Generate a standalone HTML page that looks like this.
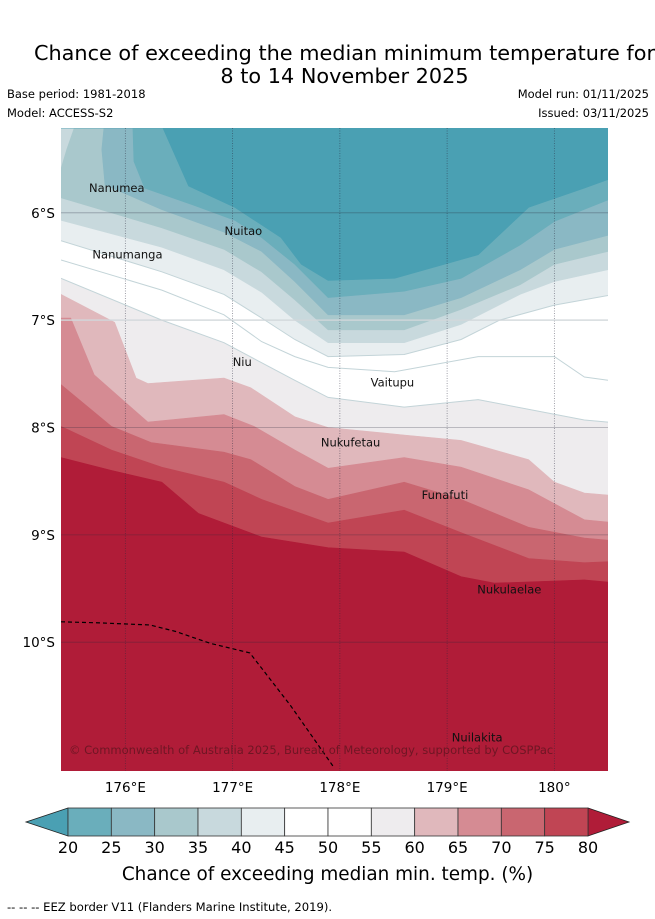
<!DOCTYPE html>
<html><head><meta charset="utf-8">
<style>
html,body{margin:0;padding:0;background:#fff;}
svg{display:block;font-family:"DejaVu Sans","Liberation Sans",sans-serif;}
</style></head>
<body>
<svg id="chart" width="655" height="919" viewBox="0 0 655 919">
  <text x="344.5" y="60" font-size="20.8" text-anchor="middle" fill="#000">Chance of exceeding the median minimum temperature for</text>
  <text x="344.5" y="83" font-size="20.8" text-anchor="middle" fill="#000">8 to 14 November 2025</text>
  <text x="7" y="98" font-size="11.5">Base period: 1981-2018</text>
  <text x="7" y="117" font-size="11.5">Model: ACCESS-S2</text>
  <text x="649" y="98" font-size="11.5" text-anchor="end">Model run: 01/11/2025</text>
  <text x="649" y="117" font-size="11.5" text-anchor="end">Issued: 03/11/2025</text>
  <defs><clipPath id="mapclip"><rect x="61" y="128" width="547" height="643"/></clipPath></defs>
  <g id="map" clip-path="url(#mapclip)">
    <rect x="61" y="128" width="547" height="643" fill="#ffffff"/>
  </g>
  <g id="labels"></g>
  <g id="axes"></g>
  <g id="cbar"></g>
  <text x="327.5" y="880" font-size="18.4" text-anchor="middle">Chance of exceeding median min. temp. (%)</text>
  <text x="7" y="911" font-size="11.6">--  --  -- EEZ border V11 (Flanders Marine Institute, 2019).</text>
</svg>
<script>
// ---- data: contour boundaries (lon, lat south) ----
const blueLevels = [45, 40, 35, 30, 25, 20];
const blueColors = ["#e8eef0", "#c8d9dd", "#a9c8cc", "#8ab8c4", "#6aaebb", "#4aa0b3"];
const lon45 = [175.40,176.34,176.92,177.27,177.58,177.89,178.60,179.13,179.49,180.00,180.50];
const lat45 = [6.26,6.55,6.76,6.98,7.18,7.34,7.32,7.18,7.00,6.86,6.77];
const lon40 = [175.40,176.34,176.92,177.27,177.58,177.89,178.60,179.13,179.68,180.00,180.50];
const lat40 = [6.07,6.32,6.53,6.74,7.00,7.21,7.21,7.04,6.76,6.64,6.53];
const lon35 = [175.40,176.34,176.92,177.27,177.58,177.89,178.60,179.13,179.68,180.00,180.50];
const lat35 = [5.86,6.14,6.34,6.55,6.81,7.09,7.09,6.90,6.67,6.48,6.36];
const lon30 = [175.80,175.78,175.81,176.34,176.92,177.27,177.58,177.89,178.60,179.13,179.68,180.00,180.50];
const lat30 = [5.21,5.41,5.74,5.97,6.18,6.36,6.64,6.95,6.95,6.79,6.53,6.34,6.21];
const lon25 = [176.07,176.08,176.18,176.64,177.02,177.27,177.58,177.89,178.60,179.13,179.68,180.00,180.50];
const lat25 = [5.21,5.52,5.77,5.93,6.07,6.23,6.48,6.79,6.73,6.61,6.30,6.08,5.88];
const lon20 = [176.35,176.59,177.02,177.45,177.64,177.89,178.51,179.29,179.76,180.28,180.50];
const lat20 = [5.21,5.75,5.95,6.23,6.48,6.63,6.61,6.39,5.95,5.77,5.69];
const lonBlob = [175.52,175.45,175.40];
const latBlob = [5.21,5.41,5.58];
const lon50 = [175.40,176.34,176.92,177.27,177.58,177.89,178.51,179.29,180.00,180.28,180.50];
const lat50 = [6.44,6.72,6.95,7.20,7.34,7.44,7.48,7.34,7.34,7.53,7.56];
const redLevels = [55, 60, 65, 70, 75, 80];
const redColors = ["#eeecee", "#e0b8bc", "#d58b93", "#c96670", "#c04554", "#b01c38"];
const lon55 = [175.40,176.34,176.92,177.58,177.89,178.60,179.29,180.28,180.50];
const lat55 = [6.61,7.00,7.21,7.56,7.72,7.81,7.74,7.93,7.95];
const lon60 = [175.40,175.90,176.10,176.21,176.92,177.17,177.58,177.89,178.60,179.13,179.76,180.00,180.28,180.50];
const lat60 = [6.76,7.02,7.54,7.59,7.54,7.63,7.90,8.00,8.07,8.12,8.30,8.51,8.61,8.63];
const lon65 = [175.40,175.49,175.71,176.21,176.92,177.20,177.58,177.89,178.60,179.13,179.76,180.28,180.50];
const lat65 = [6.98,6.98,7.51,7.95,7.88,7.99,8.21,8.38,8.28,8.37,8.58,8.86,8.88];
const lon70 = [175.40,175.87,176.24,176.92,177.17,177.58,177.89,178.60,179.13,179.76,180.28,180.50];
const lat70 = [7.60,7.99,8.14,8.23,8.30,8.55,8.67,8.51,8.67,8.93,9.03,9.05];
const lon75 = [175.40,175.87,176.34,176.92,177.27,177.89,178.60,179.13,179.76,180.28,180.50];
const lat75 = [7.99,8.21,8.37,8.51,8.67,8.89,8.77,8.98,9.22,9.26,9.25];
const lon80 = [175.40,175.87,176.34,176.68,177.27,177.89,178.60,179.13,179.44,180.28,180.50];
const lat80 = [8.28,8.40,8.51,8.80,9.02,9.12,9.16,9.39,9.45,9.42,9.44];
const eezLon = [175.40,175.77,176.23,176.47,176.79,177.16,177.54,177.94];
const eezLat = [9.81,9.82,9.84,9.90,10.01,10.10,10.59,11.16];
const lonTicks = [176, 177, 178, 179, 180];
const lonTickLabels = ["176°E", "177°E", "178°E", "179°E", "180°"];
const latTicks = [6, 7, 8, 9, 10];
const latTickLabels = ["6°S", "7°S", "8°S", "9°S", "10°S"];
const islandNames = ["Nanumea","Nuitao","Nanumanga","Niu","Vaitupu","Nukufetau","Funafuti","Nukulaelae","Nuilakita"];
const islandLon = [175.92,177.10,176.02,177.09,178.49,178.10,178.98,179.58,179.28];
const islandLat = [5.77,6.17,6.39,7.39,7.58,8.14,8.63,9.51,10.89];
const cbLevels = [20,25,30,35,40,45,50,55,60,65,70,75,80];
const cbColors = ["#6aaebb","#8ab8c4","#a9c8cc","#c8d9dd","#e8eef0","#ffffff","#ffffff","#eeecee","#e0b8bc","#d58b93","#c96670","#c04554"];

// ---- axes functions ----
const LON0 = 175.40, LON1 = 180.50, LAT0 = 5.21, LAT1 = 11.20;
const X0 = 61, X1 = 608, Y0 = 128, Y1 = 771;
function xs(lon){ return X0 + (lon - LON0) / (LON1 - LON0) * (X1 - X0); }
function ys(lat){ return Y0 + (lat - LAT0) / (LAT1 - LAT0) * (Y1 - Y0); }
const NS = "http://www.w3.org/2000/svg";
function mk(tag, attrs, parent){
  const e = document.createElementNS(NS, tag);
  for (const k in attrs) e.setAttribute(k, attrs[k]);
  parent.appendChild(e);
  return e;
}
function pts(lons, lats){ return lons.map((v,i)=>xs(v).toFixed(1)+","+ys(lats[i]).toFixed(1)); }

const map = document.getElementById("map");
const redLon = [lon55, lon60, lon65, lon70, lon75, lon80];
const redLat = [lat55, lat60, lat65, lat70, lat75, lat80];
for (let i = 0; i < redLevels.length; i++){
  const p = pts(redLon[i], redLat[i]).concat([X1+","+Y1, X0+","+Y1]);
  const el = mk("polygon", {points: p.join(" "), fill: redColors[i], stroke: redColors[i], "stroke-width": 0.6}, map);
  
  
}
const blueLon = [lon45, lon40, lon35, lon30, lon25, lon20];
const blueLat = [lat45, lat40, lat35, lat30, lat25, lat20];
for (let i = 0; i < blueLevels.length; i++){
  const p = pts(blueLon[i], blueLat[i]).concat([X1+","+Y0, X0+","+Y0]);
  const el = mk("polygon", {points: p.join(" "), fill: blueColors[i], stroke: blueColors[i], "stroke-width": 0.6}, map);
  
  
  if (i === 2){
    const b = mk("polygon", {points: pts(lonBlob, latBlob).concat([X0+","+Y0]).join(" "), fill: blueColors[1]}, map);
    
    
  }
}
[[lon45,lat45],[lon50,lat50],[lon55,lat55]].forEach((c, i) => {
  const l = mk("polyline", {points: pts(c[0], c[1]).join(" "), fill: "none", stroke: "#c3d4d8", "stroke-width": 1}, map);
  
  
});
lonTicks.forEach((v) => {
  const g = mk("line", {x1: xs(v), x2: xs(v), y1: Y0, y2: Y1, stroke: "rgba(40,40,60,0.55)", "stroke-width": 0.8, "stroke-dasharray": "1,1.5"}, map);
  
  
});
latTicks.forEach((v) => {
  const g = mk("line", {x1: X0, x2: X1, y1: ys(v), y2: ys(v), stroke: v === 7 ? "rgba(210,215,218,0.9)" : "rgba(40,40,60,0.35)", "stroke-width": v === 7 ? 1.5 : 0.8}, map);
  
  
});
const eez = mk("polyline", {points: pts(eezLon, eezLat).join(" "), fill: "none", stroke: "#000", "stroke-width": 1.2, "stroke-dasharray": "4,3"}, map);


const cp = mk("text", {x: 69, y: 754, "font-size": 11.5, fill: "rgba(90,20,30,0.75)"}, map);
cp.textContent = "© Commonwealth of Australia 2025, Bureau of Meteorology, supported by COSPPac";



const labels = document.getElementById("labels");
islandNames.forEach((n, i) => {
  const t = mk("text", {x: xs(islandLon[i]), y: ys(islandLat[i]) + 4, "font-size": 11.5, "text-anchor": "middle", fill: "#111"}, labels);
  t.textContent = n;
  
  
});

const axes = document.getElementById("axes");
lonTicks.forEach((v, i) => {
  const t = mk("text", {x: xs(v), y: 792, "font-size": 13.5, "text-anchor": "middle"}, axes);
  t.textContent = lonTickLabels[i];
  
  
});
latTicks.forEach((v, i) => {
  const t = mk("text", {x: 55, y: ys(v) + 5, "font-size": 13.5, "text-anchor": "end"}, axes);
  t.textContent = latTickLabels[i];
  
  
});

const cbar = document.getElementById("cbar");
const CB0 = 68, CB1 = 588, CBT = 808, CBB = 836;
const w = (CB1 - CB0) / cbColors.length;
const la = mk("polygon", {points: `${CB0},${CBT} 26,${(CBT+CBB)/2} ${CB0},${CBB}`, fill: "#4aa0b3", stroke: "#222", "stroke-width": 0.8}, cbar);


const ra = mk("polygon", {points: `${CB1},${CBT} 629,${(CBT+CBB)/2} ${CB1},${CBB}`, fill: "#b01c38", stroke: "#222", "stroke-width": 0.8}, cbar);


cbColors.forEach((c, i) => {
  const r = mk("rect", {x: CB0 + i*w, y: CBT, width: w, height: CBB-CBT, fill: c, stroke: "#333", "stroke-width": 0.8}, cbar);
  
  
});
cbLevels.forEach((v, i) => {
  const t = mk("text", {x: CB0 + i*w, y: 853, "font-size": 16, "text-anchor": "middle"}, cbar);
  t.textContent = v;
  
  
});
</script>
</body></html>
